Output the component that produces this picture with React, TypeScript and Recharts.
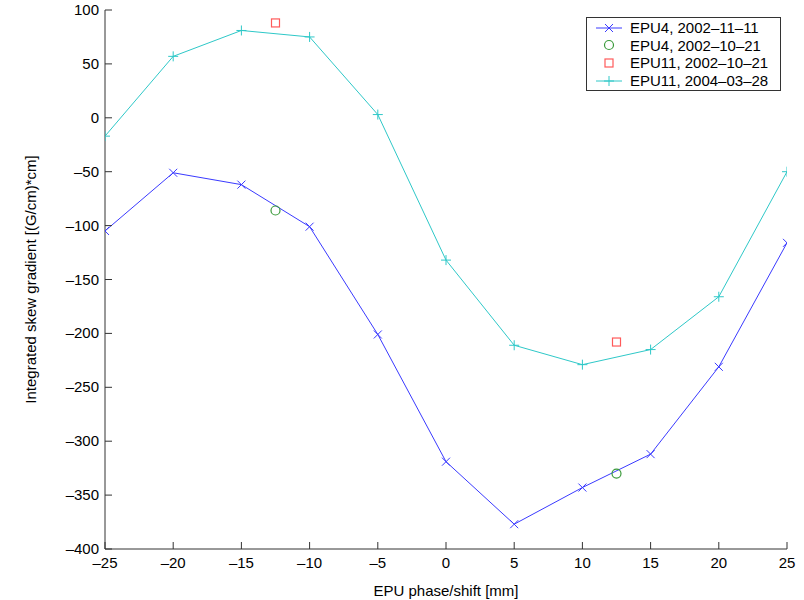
import React from 'react';
import {
  ComposedChart,
  Line,
  Scatter,
  XAxis,
  YAxis
} from 'recharts';

const shifts = [-25, -20, -15, -10, -5, 0, 5, 10, 15, 20, 25];
const epu4Nov = [-105, -51, -62, -101, -201, -319, -377, -343, -312, -231, -116];
const epu11Mar = [-17, 57, 81, 75, 3, -132, -211, -229, -215, -166, -50];

const octShifts = [-12.5, 12.5];
const epu4Oct = [-86, -330];
const epu11Oct = [88, -208];

const xTicks = [-25, -20, -15, -10, -5, 0, 5, 10, 15, 20, 25];
const yTicks = [-400, -350, -300, -250, -200, -150, -100, -50, 0, 50, 100];

const BLUE = '#3a3aff';
const CYAN = '#2ec8c8';
const GREEN = '#3a9a3a';
const RED = '#ff5a5a';
const FONT = '"Liberation Sans", Arial, Helvetica, sans-serif';
const FS = 15;

const lineRows = shifts.map((x, i) => ({ x, epu4Nov: epu4Nov[i], epu11Mar: epu11Mar[i] }));
const epu4OctRows = octShifts.map((x, i) => ({ x, y: epu4Oct[i] }));
const epu11OctRows = octShifts.map((x, i) => ({ x, y: epu11Oct[i] }));

const fmt = (v: number) => (v < 0 ? '\u2013' + Math.abs(v) : String(v));

const CrossMark = ({ cx, cy, color }: any) => (
  <g>
    <line x1={cx - 4} y1={cy - 4} x2={cx + 4} y2={cy + 4} stroke={color} strokeWidth={1} />
    <line x1={cx - 4} y1={cy + 4} x2={cx + 4} y2={cy - 4} stroke={color} strokeWidth={1} />
  </g>
);

const PlusMark = ({ cx, cy, color }: any) => (
  <g>
    <line x1={cx - 5} y1={cy} x2={cx + 5} y2={cy} stroke={color} strokeWidth={1} />
    <line x1={cx} y1={cy - 5} x2={cx} y2={cy + 5} stroke={color} strokeWidth={1} />
  </g>
);

const CircleMark = ({ cx, cy, color }: any) => (
  <circle cx={cx} cy={cy} r={4.5} fill="none" stroke={color} strokeWidth={1.2} />
);

const SquareMark = ({ cx, cy, color }: any) => (
  <rect x={cx - 4} y={cy - 4} width={8} height={8} fill="none" stroke={color} strokeWidth={1.2} />
);

const BottomTick = ({ x, y, payload }: any) => (
  <g>
    <line x1={x} y1={y} x2={x} y2={y - 7} stroke="#333" />
    <text x={x} y={y + 19} textAnchor="middle" fontSize={FS} fontFamily={FONT} fill="#000">
      {fmt(payload.value)}
    </text>
  </g>
);

const TopTick = ({ x, y }: any) => (
  <line x1={x} y1={y} x2={x} y2={y + 7} stroke="#333" />
);

const LeftTick = ({ x, y, payload }: any) => (
  <g>
    <line x1={x} y1={y} x2={x + 7} y2={y} stroke="#333" />
    <text x={x - 6} y={y + 5} textAnchor="end" fontSize={FS} fontFamily={FONT} fill="#000">
      {fmt(payload.value)}
    </text>
  </g>
);

const RightTick = ({ x, y }: any) => (
  <line x1={x} y1={y} x2={x - 7} y2={y} stroke="#333" />
);

const legendItems = [
  { label: 'EPU4, 2002\u201311\u201311', color: BLUE, mark: CrossMark, line: true },
  { label: 'EPU4, 2002\u201310\u201321', color: GREEN, mark: CircleMark, line: false },
  { label: 'EPU11, 2002\u201310\u201321', color: RED, mark: SquareMark, line: false },
  { label: 'EPU11, 2004\u201303\u201328', color: CYAN, mark: PlusMark, line: true }
];

const LegendBox = () => (
  <div
    style={{
      position: 'absolute',
      left: 586,
      top: 17,
      width: 195,
      height: 74,
      border: '1px solid #333',
      background: '#fff',
      boxSizing: 'border-box',
      fontFamily: FONT,
      fontSize: FS,
      paddingTop: 1
    }}
  >
    {legendItems.map((item) => {
      const Mark = item.mark;
      return (
        <div key={item.label} style={{ display: 'flex', alignItems: 'center', height: 17.6 }}>
          <svg width={43} height={14} style={{ marginLeft: 0, flexShrink: 0 }}>
            {item.line && <line x1={9} y1={7} x2={35} y2={7} stroke={item.color} strokeWidth={1} />}
            <Mark cx={22} cy={7} color={item.color} />
          </svg>
          <span style={{ color: '#000', whiteSpace: 'nowrap', lineHeight: '17px' }}>{item.label}</span>
        </div>
      );
    })}
  </div>
);

export default function App() {
  return (
    <div style={{ position: 'absolute', left: 0, top: 0, width: 804, height: 600, background: '#fff' }}>
      <ComposedChart
        width={804}
        height={600}
        data={lineRows}
        margin={{ top: 10, right: 17, left: 55, bottom: 21 }}
      >
        <XAxis
          xAxisId="b"
          dataKey="x"
          type="number"
          domain={[-25, 25]}
          ticks={xTicks}
          allowDataOverflow
          height={30}
          tickSize={0}
          tickMargin={0}
          tick={<BottomTick />}
          tickLine={false}
          axisLine={{ stroke: '#333' }}
          label={{
            value: 'EPU phase/shift [mm]',
            position: 'insideBottom',
            offset: -17,
            style: { fontSize: FS, fontFamily: FONT, fill: '#000' }
          }}
        />
        <XAxis
          xAxisId="t"
          dataKey="x"
          type="number"
          orientation="top"
          domain={[-25, 25]}
          ticks={xTicks}
          height={0}
          tickSize={0}
          tickMargin={0}
          tick={<TopTick />}
          tickLine={false}
          axisLine={{ stroke: '#333' }}
        />
        <YAxis
          yAxisId="l"
          type="number"
          domain={[-400, 100]}
          ticks={yTicks}
          allowDataOverflow
          width={50}
          tickSize={0}
          tickMargin={0}
          tick={<LeftTick />}
          tickLine={false}
          axisLine={{ stroke: '#333' }}
          label={{
            value: 'Integrated skew gradient [(G/cm)*cm]',
            angle: -90,
            position: 'insideLeft',
            offset: -24,
            style: { fontSize: FS, fontFamily: FONT, fill: '#000', textAnchor: 'middle' }
          }}
        />
        <YAxis
          yAxisId="r"
          type="number"
          orientation="right"
          domain={[-400, 100]}
          ticks={yTicks}
          width={0}
          tickSize={0}
          tickMargin={0}
          tick={<RightTick />}
          tickLine={false}
          axisLine={{ stroke: '#333' }}
        />
        <Line
          xAxisId="b"
          yAxisId="l"
          dataKey="epu4Nov"
          stroke={BLUE}
          strokeWidth={1}
          isAnimationActive={false}
          dot={(p: any) => <CrossMark key={'a' + p.index} cx={p.cx} cy={p.cy} color={BLUE} />}
          activeDot={false}
        />
        <Line
          xAxisId="b"
          yAxisId="l"
          dataKey="epu11Mar"
          stroke={CYAN}
          strokeWidth={1}
          isAnimationActive={false}
          dot={(p: any) => <PlusMark key={'c' + p.index} cx={p.cx} cy={p.cy} color={CYAN} />}
          activeDot={false}
        />
        <Scatter
          xAxisId="b"
          yAxisId="l"
          data={epu4OctRows}
          dataKey="y"
          isAnimationActive={false}
          shape={(p: any) => <CircleMark cx={p.cx} cy={p.cy} color={GREEN} />}
        />
        <Scatter
          xAxisId="b"
          yAxisId="l"
          data={epu11OctRows}
          dataKey="y"
          isAnimationActive={false}
          shape={(p: any) => <SquareMark cx={p.cx} cy={p.cy} color={RED} />}
        />
      </ComposedChart>
      <LegendBox />
    </div>
  );
}
